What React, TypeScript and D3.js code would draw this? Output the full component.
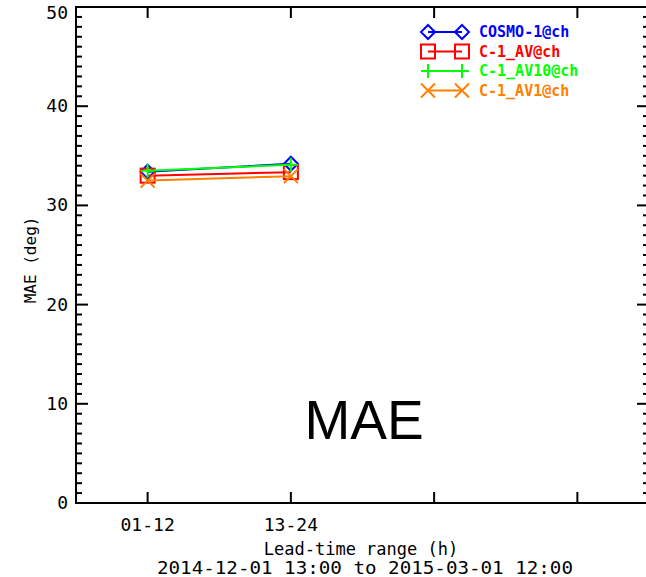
import React, { useEffect, useRef } from 'react';
import * as d3 from 'd3';

// lead-time categories (positions 0.5, 1.5, ...)
const leadTimes = ['01-12', '13-24', '', ''];

// series values (MAE in deg) per lead-time range
const seriesNames = ['COSMO-1@ch', 'C-1_AV@ch', 'C-1_AV10@ch', 'C-1_AV1@ch'];
const cosmo1 = [33.4, 34.2];
const c1Av = [33.0, 33.35];
const c1Av10 = [33.5, 34.1];
const c1Av1 = [32.5, 32.95];

const seriesColors = ['#0000ff', '#ff0000', '#00ff00', '#ff8000'];
const seriesMarkers = ['diamond', 'square', 'plus', 'cross'];

const yTicks = [0, 10, 20, 30, 40, 50];

const App = () => {
  const ref = useRef<SVGSVGElement>(null);

  useEffect(() => {
    const svg = d3.select(ref.current);
    svg.selectAll('*').remove();

    const margins = { top: 7, left: 76, right: -3, bottom: 74 };
    const width = 646;
    const height = 577;

    const x = d3.scaleLinear().domain([0, 4]).range([margins.left, width - margins.right]);
    const y = d3.scaleLinear().domain([0, 50]).range([height - margins.bottom, margins.top]);

    const font = '"DejaVu Sans Mono", "Liberation Mono", monospace';
    const bigFont = '"Liberation Sans", Arial, sans-serif';

    // frame
    svg.append('rect')
      .attr('x', x(0)).attr('y', y(50))
      .attr('width', x(4) - x(0)).attr('height', y(0) - y(50))
      .attr('fill', 'none').attr('stroke', '#000').attr('stroke-width', 2);

    // y ticks, left and right, major every 10, minor every 1
    const minor = d3.range(0, 51, 1);
    minor.forEach(v => {
      const len = v % 10 === 0 ? 12 : 6;
      svg.append('line').attr('x1', x(0)).attr('x2', x(0) + len)
        .attr('y1', y(v)).attr('y2', y(v)).attr('stroke', '#000').attr('stroke-width', 2);
      svg.append('line').attr('x1', x(4)).attr('x2', x(4) - len)
        .attr('y1', y(v)).attr('y2', y(v)).attr('stroke', '#000').attr('stroke-width', 2);
    });

    // top label is pushed down so it stays inside the page
    svg.append('g').selectAll('text').data(yTicks).enter().append('text')
      .attr('x', x(0) - 8).attr('y', d => Math.max(y(d) + 6, 19))
      .attr('text-anchor', 'end')
      .style('font-family', font).style('font-size', '18px')
      .text(d => d);

    // x ticks, top and bottom
    leadTimes.forEach((lbl, i) => {
      const xv = x(i + 0.5);
      svg.append('line').attr('x1', xv).attr('x2', xv)
        .attr('y1', y(0)).attr('y2', y(0) - 11).attr('stroke', '#000').attr('stroke-width', 2);
      svg.append('line').attr('x1', xv).attr('x2', xv)
        .attr('y1', y(50)).attr('y2', y(50) + 11).attr('stroke', '#000').attr('stroke-width', 2);
      svg.append('text').attr('x', xv).attr('y', y(0) + 28)
        .attr('text-anchor', 'middle')
        .style('font-family', font).style('font-size', '18px')
        .text(lbl);
    });

    // axis titles
    svg.append('text').attr('x', 361).attr('y', 555)
      .attr('text-anchor', 'middle')
      .style('font-family', font).style('font-size', '17px')
      .text('Lead-time range (h)');
    svg.append('text').attr('x', 365).attr('y', 574)
      .attr('text-anchor', 'middle')
      .attr('textLength', 416).attr('lengthAdjust', 'spacingAndGlyphs')
      .style('font-family', font).style('font-size', '17px')
      .text('2014-12-01 13:00 to 2015-03-01 12:00');
    svg.append('text')
      .attr('transform', `translate(36, ${y(24.5)}) rotate(-90)`)
      .attr('text-anchor', 'middle')
      .style('font-family', font).style('font-size', '16px')
      .text('MAE (deg)');

    // big label
    svg.append('text').attr('x', 364).attr('y', 439)
      .attr('text-anchor', 'middle')
      .style('font-family', bigFont).style('font-size', '55px')
      .text('MAE');

    const drawMarker = (g, kind, cx, cy, color) => {
      const s = 7;
      if (kind === 'diamond') {
        g.append('path').attr('d', `M${cx},${cy - s}L${cx + s},${cy}L${cx},${cy + s}L${cx - s},${cy}Z`)
          .attr('fill', 'none').attr('stroke', color).attr('stroke-width', 2);
      } else if (kind === 'square') {
        g.append('rect').attr('x', cx - s).attr('y', cy - s).attr('width', 2 * s).attr('height', 2 * s)
          .attr('fill', 'none').attr('stroke', color).attr('stroke-width', 2);
      } else if (kind === 'plus') {
        g.append('path').attr('d', `M${cx - s},${cy}H${cx + s}M${cx},${cy - s}V${cy + s}`)
          .attr('stroke', color).attr('stroke-width', 2);
      } else {
        g.append('path').attr('d', `M${cx - s},${cy - s}L${cx + s},${cy + s}M${cx - s},${cy + s}L${cx + s},${cy - s}`)
          .attr('stroke', color).attr('stroke-width', 2);
      }
    };

    const series = [cosmo1, c1Av, c1Av10, c1Av1];
    const line = d3.line<number>().x((d, i) => x(i + 0.5)).y(d => y(d));

    series.forEach((vals, k) => {
      const g = svg.append('g');
      g.append('path').datum(vals).attr('d', line)
        .attr('fill', 'none').attr('stroke', seriesColors[k]).attr('stroke-width', 2);
      vals.forEach((v, i) => drawMarker(g, seriesMarkers[k], x(i + 0.5), y(v), seriesColors[k]));
    });

    // legend
    seriesNames.forEach((name, k) => {
      const ly = 32 + k * 19.5;
      const g = svg.append('g');
      g.append('line').attr('x1', 428).attr('x2', 462).attr('y1', ly).attr('y2', ly)
        .attr('stroke', seriesColors[k]).attr('stroke-width', 2);
      drawMarker(g, seriesMarkers[k], 428, ly, seriesColors[k]);
      drawMarker(g, seriesMarkers[k], 462, ly, seriesColors[k]);
      g.append('text').attr('x', 479).attr('y', ly + 5)
        .attr('fill', seriesColors[k])
        .style('font-family', font).style('font-size', '15px').style('font-weight', 'bold')
        .text(name);
    });
  }, []);

  return (
    <svg ref={ref} width={646} height={577}
      style={{ position: 'absolute', left: 0, top: 0, background: '#fff' }} />
  );
};

export default App;
